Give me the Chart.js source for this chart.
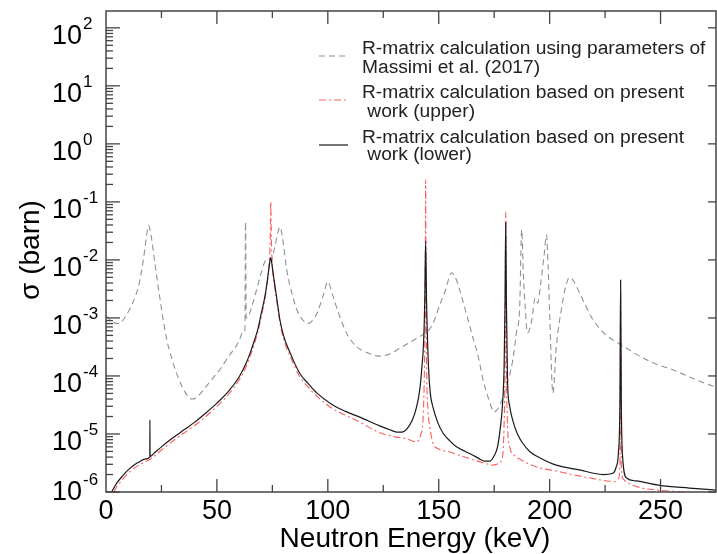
<!DOCTYPE html>
<html>
<head>
<meta charset="utf-8">
<script src="https://cdn.jsdelivr.net/npm/chart.js@4.4.1/dist/chart.umd.min.js"></script>
<style>
  body { margin: 0; background: #fff; }
  canvas { display: block; }
</style>
</head>
<body>
<canvas id="myChart" width="717" height="554"></canvas>
<script>
// R-matrix calculation, Massimi et al. (2017) parameters
const massimiE = [0, 3, 6, 9, 12, 15, 17, 18.5, 19.3, 20.2, 22, 24, 27, 30, 33, 36, 38.7, 41, 45, 49, 52, 55, 58, 60, 61.5,
  62.6, 62.9, 63.2, 64.1, 66, 67, 69.4, 71.6, 73, 74.5, 76, 77.5, 78.4, 79.5, 81.5, 84, 86, 88.5, 91, 93.5, 95.5, 98, 100,
  102, 105, 109, 113, 118, 123, 128, 133, 138, 143, 145, 148, 150, 153, 155.8, 158, 160.8, 163, 165.4, 168, 170, 172.5,
  175, 177.3, 180.2, 183.4, 185, 186.5, 187.4, 188.2, 189, 190, 191.9, 193.5, 194.6, 196, 197.5, 198.6, 199.3, 200,
  201.5, 203, 205.4, 207, 209, 211, 213.5, 216, 219.4, 224, 228, 233, 238, 243.7, 249, 255, 262, 268, 275]
const massimiSigma = [1.1e-3, 8.5e-4, 8e-4, 1.1e-3, 1.8e-3, 4e-3, 1.1e-2, 3e-2, 3.9e-2, 2.8e-2, 9e-3, 2.6e-3, 5e-4, 1.8e-4,
  8.5e-5, 5e-5, 4e-5, 4.3e-5, 6.5e-5, 1e-4, 1.4e-4, 2.1e-4, 3e-4, 4e-4, 5.5e-4,
  5.8e-4, 4.5e-2, 1e-3, 1.05e-3, 1.7e-3, 2.3e-3, 5e-3, 9.3e-3, 1.05e-2, 1e-2, 1.6e-2, 3e-2, 3.7e-2, 2.5e-2, 6.7e-3, 2.5e-3,
  1.4e-3, 9.5e-4, 8e-4, 9.5e-4, 1.3e-3, 2.5e-3, 4.2e-3,
  2.6e-3, 1.15e-3, 5e-4, 3.2e-4, 2.5e-4, 2.2e-4, 2.4e-4, 3.1e-4, 4e-4, 5.2e-4, 5.8e-4, 9e-4, 1.5e-3, 3e-3, 6e-3, 4.5e-3,
  2e-3, 1e-3, 4.6e-4, 2e-4, 8.5e-5, 4e-5,
  2.4e-5, 3e-5, 6.2e-5, 1.9e-4, 5.5e-4, 1.55e-3, 3.3e-2, 5e-3, 1.5e-3, 5.5e-4, 9e-4, 2.2e-3, 1.8e-3, 4e-3, 1.2e-2, 2.7e-2,
  8e-3, 1.2e-3,
  5e-5, 3.2e-4, 1.5e-3, 3.2e-3, 5e-3, 4.2e-3, 2.7e-3, 1.7e-3, 9.5e-4, 5.7e-4, 4.3e-4, 3.3e-4, 2.5e-4, 1.9e-4, 1.55e-4,
  1.3e-4, 1e-4, 8e-5, 6.4e-5]

// present work (upper)
const upperE = [3.5, 5, 7.5, 10, 12.5, 15, 17.5, 20, 22, 25, 30, 35, 40, 45, 50, 55, 60, 63, 65, 67, 68.5, 70, 71.5, 72.5,
  73.3, 73.8, 74.1, 74.3, 74.5, 74.8, 75.3, 76.2, 77.2, 78.4, 80, 83, 87.4, 91, 95, 102, 108, 114.4, 123.4, 130, 135.5,
  140, 142, 142.9, 143.6, 143.9, 144.1, 144.3, 144.6, 145.2, 146, 147.4, 150, 155, 160, 165.4, 170, 174.5, 177, 178.4,
  179.4, 179.9, 180.2, 180.5, 180.9, 182, 184, 187, 191, 195.5, 203, 210, 218, 225.7, 229.5, 231, 231.7, 232, 232.3, 233,
  234.5, 240.5, 250, 260, 275]
const upperSigma = [1e-6, 1.25e-6, 1.65e-6, 2.1e-6, 2.55e-6, 2.95e-6, 3.3e-6, 3.7e-6, 4.2e-6, 5.3e-6, 7.5e-6, 1.03e-5,
  1.4e-5, 2e-5, 3e-5, 4.7e-5, 8.5e-5, 1.4e-4, 2.2e-4, 3.7e-4, 5.8e-4, 1.05e-3, 2e-3, 3.5e-3,
  6.5e-3, 1.2e-2, 3e-2, 1e-1, 3e-2, 1.1e-2, 5.5e-3, 3.1e-3, 1.7e-3, 8.3e-4, 4.4e-4, 2.2e-4, 9.6e-5, 6.5e-5, 4.5e-5, 2.75e-5,
  2.1e-5, 1.6e-5, 1.05e-5, 9e-6, 8.3e-6,
  7.3e-6, 1e-5, 1.7e-5, 1.6e-4, 2e-3, 2.4e-1, 2e-3, 1e-4, 2.5e-5, 1.3e-5, 7e-6, 5.5e-6, 4.9e-6, 4.2e-6, 3.6e-6, 3.2e-6,
  2.9e-6, 3.1e-6, 3.6e-6,
  1.17e-5, 2e-4, 6.7e-2, 2e-4, 2e-5, 6e-6, 4.3e-6, 3.6e-6, 3e-6, 2.6e-6, 2.3e-6, 2e-6, 1.75e-6, 1.55e-6, 1.5e-6, 1.7e-6,
  3e-6, 3e-3, 3e-6, 1.7e-6,
  1.5e-6, 1.2e-6, 1.07e-6, 1e-6, 8.5e-7]

// present work (lower)
const lowerE = [2.5, 5, 7.5, 10, 12.5, 15, 17.5, 19.75, 19.8, 19.85, 22, 25, 30, 35, 40, 45, 50, 55, 60, 63, 65, 67, 68.5,
  70, 71.5, 72.5, 73.3, 73.9, 74.2, 74.6, 75.3, 76.2, 77.2, 78.4, 80, 83, 87.4, 91, 95, 102, 108, 114.4, 123.4, 128, 131,
  133.5, 135.5, 138, 140, 141.5, 142.3, 143.2, 143.7, 144.1, 144.5, 145.4, 146.2, 147.4, 149.5, 151.9, 155, 158, 162,
  165.4, 168, 170.7, 173, 175, 176.5, 177.8, 178.7, 179.5, 179.9, 180.2, 180.5, 181, 182, 183.4, 185.5, 187.8, 191, 195.5,
  203, 213.5, 224, 228.5, 230, 231, 231.7, 232, 232.3, 233, 234.7, 239, 249.5, 263, 275]
const lowerSigma = [1e-6, 1.45e-6, 1.9e-6, 2.4e-6, 2.9e-6, 3.3e-6, 3.7e-6, 4e-6, 1.75e-5, 4.1e-6, 4.8e-6, 6e-6, 8.5e-6,
  1.17e-5, 1.6e-5, 2.3e-5, 3.4e-5, 5.3e-5, 9.6e-5, 1.6e-4, 2.5e-4, 4.2e-4, 6.5e-4,
  1.2e-3, 2.2e-3, 3.8e-3, 6.5e-3, 9.5e-3, 1.1e-2, 9.5e-3, 6e-3, 3.5e-3, 1.9e-3, 9.3e-4, 5e-4, 2.5e-4, 1.1e-4, 7.5e-5,
  5.1e-5, 3.2e-5, 2.45e-5, 1.95e-5, 1.38e-5, 1.18e-5, 1.08e-5,
  1.08e-5, 1.2e-5, 1.7e-5, 2.9e-5, 6e-5, 1.26e-4, 4e-4, 2e-3, 2.1e-2, 2e-3, 1.4e-4, 5e-5, 2.9e-5, 1.6e-5, 1.04e-5, 7.6e-6,
  6e-6, 5e-6,
  4.3e-6, 3.8e-6, 3.4e-6, 3.4e-6, 4.2e-6, 6e-6, 1.3e-5, 3e-5, 1.6e-4, 2e-3, 4.4e-2, 2e-3, 8.5e-5, 3e-5, 1.7e-5, 1e-5,
  7e-6, 5e-6, 3.9e-6,
  2.9e-6, 2.4e-6, 2e-6, 2.1e-6, 2.7e-6, 4.7e-6, 4e-5, 4.5e-3, 4e-5, 3.6e-6, 1.74e-6, 1.55e-6, 1.3e-6, 1.17e-6, 1.08e-6]

const xTickLabels = [0, 50, 100, 150, 200, 250]
const xMinorTicks = [25, 50, 75, 100, 125, 150, 175, 200, 225, 250]
const yExponents = [-6, -5, -4, -3, -2, -1, 0, 1, 2]

const legendText = [
  ['R-matrix calculation using parameters of', 'Massimi et al. (2017)'],
  ['R-matrix calculation based on present', ' work (upper)'],
  ['R-matrix calculation based on present', ' work (lower)']
]

const FONT = '"Liberation Sans", Arial, Helvetica, sans-serif'

const gray = '#8a929e'
const red = '#ff5c5c'
const black = '#1a1a1a'
const styles = [
  { color: gray, dash: [6, 4] },
  { color: red, dash: [7, 3, 2, 3] },
  { color: black, dash: [] }
]

function toPoints(xs, ys) {
  return xs.map((e, i) => ({ x: e, y: ys[i] }))
}

function line(ctx, x1, y1, x2, y2) {
  ctx.beginPath()
  ctx.moveTo(x1, y1)
  ctx.lineTo(x2, y2)
  ctx.stroke()
}

// frame, inward ticks, labels, legend
const framePlugin = {
  id: 'frame',
  afterDraw(chart) {
    const { ctx, chartArea: a, scales: { x, y } } = chart
    ctx.save()
    ctx.strokeStyle = '#444'
    ctx.lineWidth = 1.5
    ctx.setLineDash([])
    ctx.strokeRect(a.left, a.top, a.right - a.left, a.bottom - a.top)

    ctx.lineWidth = 1.3
    xMinorTicks.forEach(v => {
      const px = x.getPixelForValue(v)
      const len = v % 50 === 0 ? 13 : 7
      line(ctx, px, a.bottom, px, a.bottom - len)
      line(ctx, px, a.top, px, a.top + len)
    })

    yExponents.forEach(k => {
      const py = y.getPixelForValue(Math.pow(10, k))
      line(ctx, a.left, py, a.left + 14, py)
      line(ctx, a.right, py, a.right - 8, py)
      for (let m = 2; m <= 9; m++) {
        const v = m * Math.pow(10, k)
        if (v > y.max) break
        const pm = y.getPixelForValue(v)
        line(ctx, a.left, pm, a.left + 7, pm)
      }
    })

    // tick labels
    ctx.fillStyle = '#000'
    ctx.textBaseline = 'alphabetic'
    ctx.font = '27px ' + FONT
    ctx.textAlign = 'center'
    xTickLabels.forEach(v => {
      ctx.fillText(String(v), x.getPixelForValue(v), 519)
    })

    yExponents.forEach(k => {
      const py = y.getPixelForValue(Math.pow(10, k))
      const shift = k === -6 ? -8 : 0
      ctx.font = '27px ' + FONT
      ctx.textAlign = 'right'
      ctx.fillText('10', 82, py + 16 + shift)
      ctx.font = '17px ' + FONT
      ctx.textAlign = 'left'
      ctx.fillText(String(k), 83, py + 1 + shift)
    })

    // axis titles
    ctx.font = '28px ' + FONT
    ctx.textAlign = 'center'
    ctx.fillText('Neutron Energy (keV)', 415, 547)
    ctx.save()
    ctx.translate(39, 250)
    ctx.rotate(-Math.PI / 2)
    ctx.fillText('σ (barn)', 0, 0)
    ctx.restore()

    // legend
    const sampleY = [56, 100, 145]
    const textY = [[54, 73], [98, 117], [143, 160]]
    ctx.font = '19.2px ' + FONT
    ctx.textAlign = 'left'
    ctx.fillStyle = '#222'
    legendText.forEach((lines, i) => {
      ctx.strokeStyle = styles[i].color
      ctx.lineWidth = 1.2
      ctx.setLineDash(styles[i].dash)
      line(ctx, 319, sampleY[i], 348, sampleY[i])
      ctx.setLineDash([])
      lines.forEach((t, j) => ctx.fillText(t, 362, textY[i][j]))
    })
    ctx.restore()
  }
}

const dataSets = [
  { label: 'R-matrix calculation using parameters of Massimi et al. (2017)', data: toPoints(massimiE, massimiSigma), order: 3 },
  { label: 'R-matrix calculation based on present work (upper)', data: toPoints(upperE, upperSigma), order: 2 },
  { label: 'R-matrix calculation based on present work (lower)', data: toPoints(lowerE, lowerSigma), order: 1 }
].map((d, i) => Object.assign(d, {
  borderColor: styles[i].color,
  borderDash: styles[i].dash,
  borderWidth: i === 2 ? 1.2 : 1.1,
  pointRadius: 0,
  fill: false,
  cubicInterpolationMode: 'monotone'
}))

new Chart(document.getElementById('myChart'), {
  type: 'line',
  data: { datasets: dataSets },
  options: {
    responsive: false,
    animation: false,
    layout: { padding: { top: 11, right: 1, left: 0, bottom: 0 } },
    plugins: { legend: { display: false }, tooltip: { enabled: false } },
    scales: {
      x: {
        type: 'linear', min: 0, max: 275,
        grid: { display: false }, border: { display: false },
        ticks: { display: false },
        afterFit(s) { s.height = 62 }
      },
      y: {
        type: 'logarithmic', min: 1e-6, max: 195,
        grid: { display: false }, border: { display: false },
        ticks: { display: false },
        afterFit(s) { s.width = 106 }
      }
    }
  },
  plugins: [framePlugin]
})
</script>
</body>
</html>
